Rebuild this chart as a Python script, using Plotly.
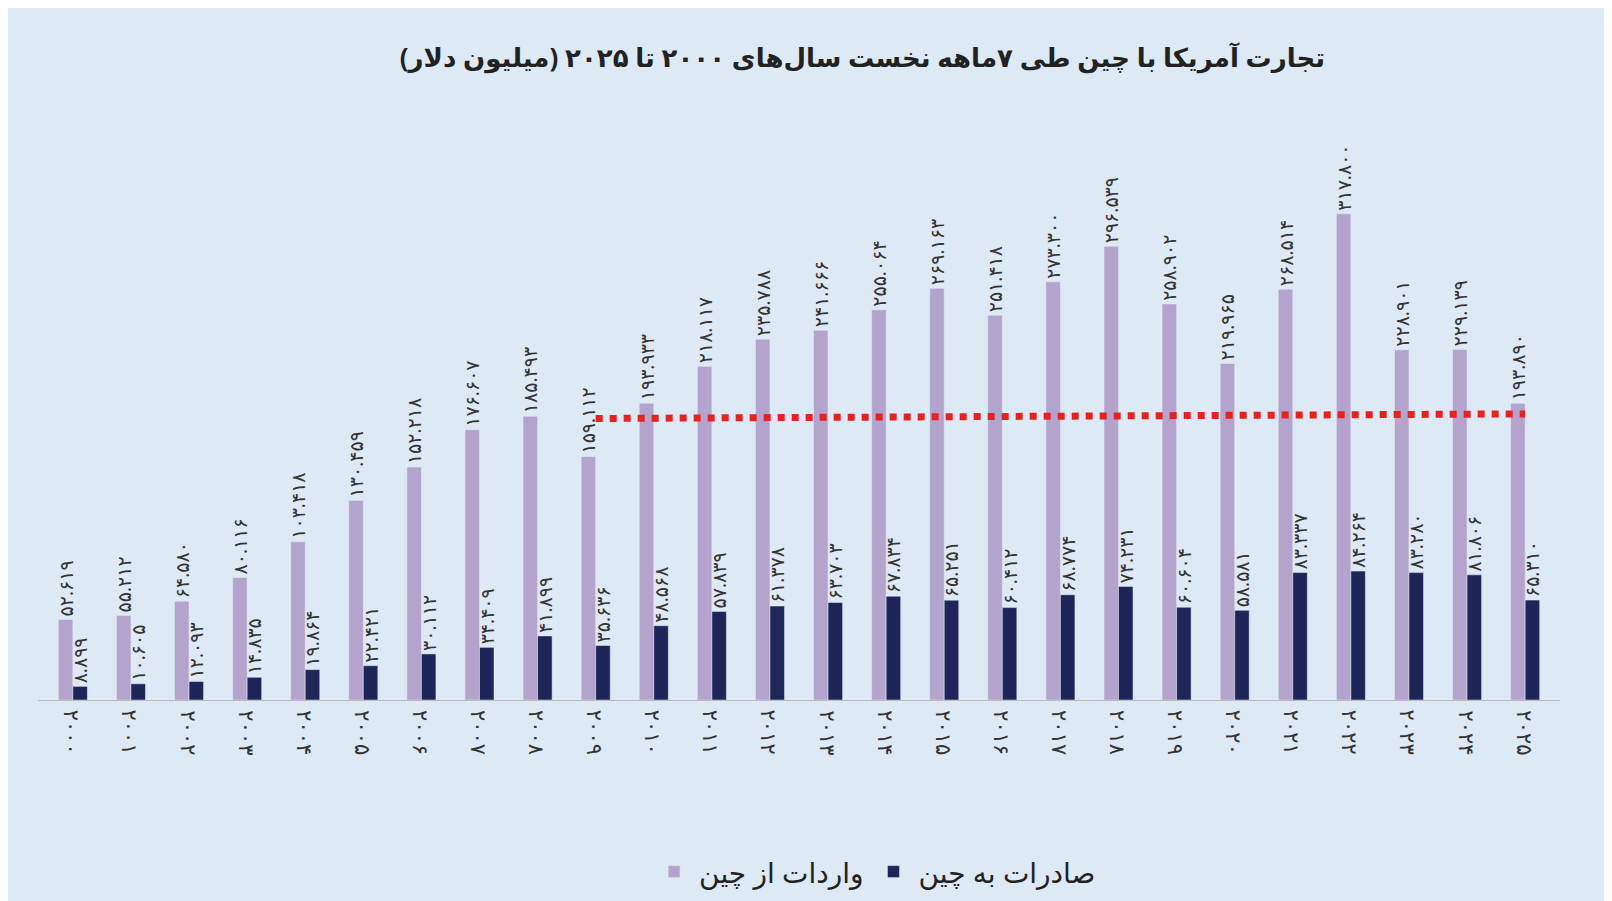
import plotly.graph_objects as go

years = list(range(2000, 2026))
imports = [52.619, 55.212, 64.580, 80.116, 103.418, 130.459, 152.218, 176.607, 185.493, 159.112,
           193.933, 218.117, 235.788, 241.666, 255.064, 269.163, 251.418, 273.300, 296.539, 258.902,
           219.965, 268.514, 317.800, 228.901, 229.139, 193.890]
exports = [8.899, 10.605, 12.093, 14.835, 19.864, 22.421, 30.112, 34.409, 41.899, 35.636,
           48.568, 57.839, 61.378, 63.703, 67.834, 65.251, 60.412, 68.774, 74.231, 60.604,
           58.581, 83.337, 84.264, 83.280, 81.806, 65.310]
trend_start = 2009
trend_level = [184.0, 187.0]

FA = str.maketrans("0123456789", "۰۱۲۳۴۵۶۷۸۹")
def fa(s):
    return s.translate(FA)

font = "Noto Sans, DejaVu Sans"

fig = go.Figure()
fig.add_bar(x=years, y=imports, name="واردات از چین", marker_color="#b4a4cd",
            text=[fa(f"{v:.3f}") for v in imports], textposition="outside", textangle=-90,
            constraintext="none",
            textfont=dict(size=19, color="#333"), cliponaxis=False)
fig.add_bar(x=years, y=exports, name="صادرات به چین", marker_color="#1e2659",
            text=[fa(f"{v:.3f}") for v in exports], textposition="outside", textangle=-90,
            constraintext="none",
            textfont=dict(size=19, color="#333"), cliponaxis=False)
i0 = years.index(trend_start)
fig.add_scatter(x=[years[i0], years[-1]], y=trend_level, mode="lines",
                line=dict(color="#e52222", width=7, dash="dot"), showlegend=False, hoverinfo="skip")

for y in years:
    fig.add_annotation(x=y, y=0, xref="x", yref="paper", yshift=-8, text=fa(str(y)),
                       textangle=90, showarrow=False, yanchor="top",
                       font=dict(size=21, color="#333"))

fig.update_layout(
    width=1612, height=901,
    paper_bgcolor="#dde9f5", plot_bgcolor="#dde9f5",
    margin=dict(l=30, r=60, t=80, b=200),
    barmode="group", bargap=0.5, bargroupgap=0.0,
    font=dict(family=font, size=16, color="#222"),
    title=dict(text="<b>تجارت آمریکا با چین طی ۷ماهه نخست سال‌های ۲۰۰۰ تا ۲۰۲۵ (میلیون دلار)</b>",
               x=0.53, xanchor="center", y=0.955, font=dict(size=26, color="#222")),
    legend=dict(orientation="h", x=0.55, xanchor="center", y=-0.24, yanchor="top",
                font=dict(size=28, color="#222"), traceorder="normal", itemwidth=40),
    showlegend=True,
)
fig.update_xaxes(showticklabels=False, showline=True, linecolor="#bbb", showgrid=False,
                 range=[years[0] - 0.6, years[-1] + 0.6])
fig.update_yaxes(visible=False, range=[0, 400])
fig.write_html("out.html")
